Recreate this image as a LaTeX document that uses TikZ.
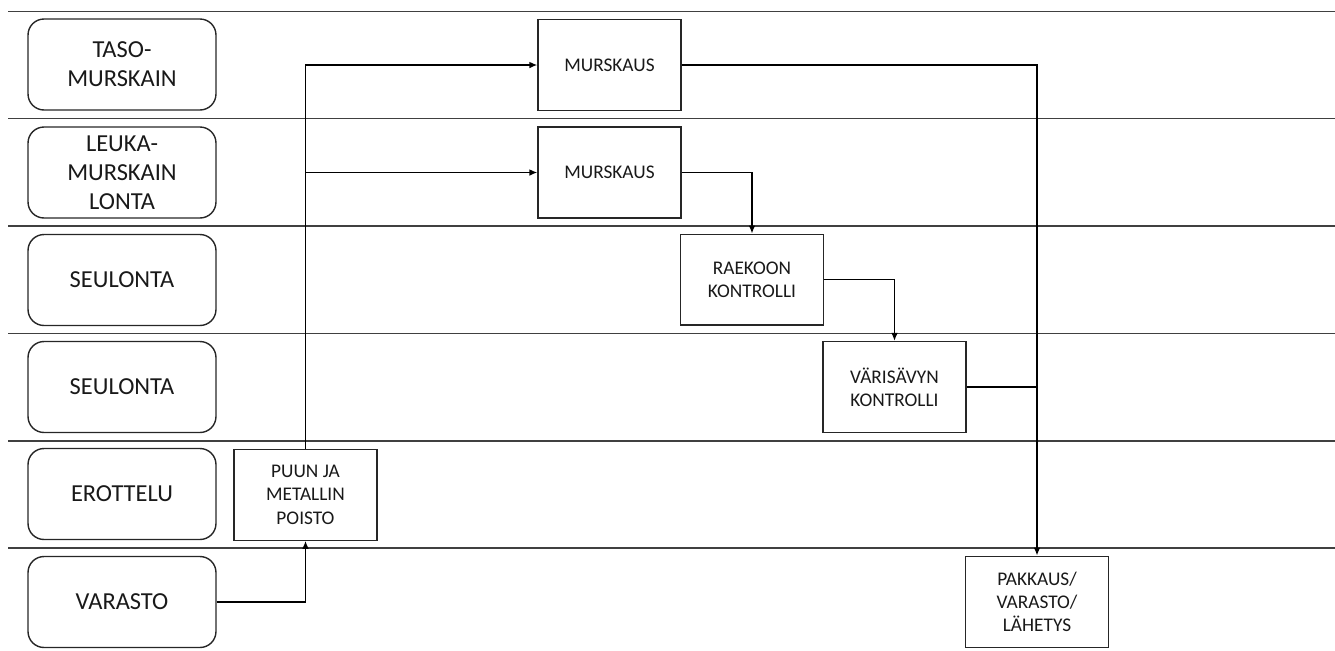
\documentclass[tikz,border=0pt]{standalone}
\usepackage{fontspec}
\setmainfont{Carlito}
\usetikzlibrary{arrows.meta}
\begin{document}
\begin{tikzpicture}[x=0.02cm,y=-0.02cm,
  lanebox/.style={draw=black!85,line width=0.8pt,rounded corners=0.32cm,minimum width=3.76cm,minimum height=1.82cm,align=center,text=black!90,font=\fontsize{13.9pt}{16.4pt}\selectfont,inner sep=0pt},
  stepbox/.style={draw=black!85,line width=0.8pt,minimum width=2.86cm,minimum height=1.82cm,align=center,text=black!90,font=\fontsize{11pt}{13.2pt}\selectfont,inner sep=0pt},
  lane/.style={draw=black!75,line width=0.8pt},
  flow/.style={draw=black,line width=0.8pt},
  arr/.style={flow,-{Latex[length=4.5pt,width=3.8pt]}}]
\useasboundingbox (0,0) rectangle (1335,650);
% lane separators
\foreach \yy in {11.5,118.5,226,333.5,441,548}
  \draw[lane] (8,\yy) -- (1335,\yy);
% lane labels
\node[lanebox] (l1) at (122,64.5) {TASO-\\MURSKAIN};
\node[lanebox] (l2) at (122,172.5) {LEUKA-\\MURSKAIN\\LONTA};
\node[lanebox] (l3) at (122,280) {SEULONTA};
\node[lanebox] (l4) at (122,387) {SEULONTA};
\node[lanebox] (l5) at (122,494) {EROTTELU};
\node[lanebox] (l6) at (122,602) {VARASTO};
% process steps
\node[stepbox] (m1) at (609.5,65) {MURSKAUS};
\node[stepbox] (m2) at (609.5,172.5) {MURSKAUS};
\node[stepbox] (rae) at (752,279.7) {RAEKOON\\KONTROLLI};
\node[stepbox] (var) at (894.5,387) {VÄRISÄVYN\\KONTROLLI};
\node[stepbox] (puu) at (305.5,494.7) {PUUN JA\\METALLIN\\POISTO};
\node[stepbox] (pak) at (1037,601.7) {PAKKAUS/\\VARASTO/\\LÄHETYS};
% connectors
\draw[arr] (l6.east) -| (puu.south);
\draw[arr] (puu.north) |- (m1.west);
\draw[arr] (puu.north) |- (m2.west);
\draw[arr] (m2.east) -| (rae.north);
\draw[arr] (rae.east) -| (var.north);
\draw[arr] (m1.east) -| (pak.north);
\draw[flow] (var.east) -- (var.east -| pak.north);
\end{tikzpicture}
\end{document}
